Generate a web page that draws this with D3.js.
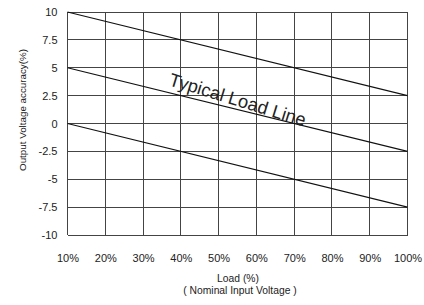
<!DOCTYPE html>
<html><head><meta charset="utf-8">
<script src="https://cdn.jsdelivr.net/npm/d3@7"></script>
<style>body{margin:0;background:#fff}svg{display:block}text{font-family:"Liberation Sans",Arial,sans-serif;fill:#222}</style>
</head><body>
<script>
const xTicks = [10,20,30,40,50,60,70,80,90,100];
const yTicks = [-10,-7.5,-5,-2.5,0,2.5,5,7.5,10];
const loadPct = [10, 100];
const upperLine = [10, 2.5];
const typicalLine = [5, -2.5];
const lowerLine = [0, -7.5];
const annotation = "Typical Load Line";
const annotationAt = 36.6;

const W=424,H=305;
const svg=d3.select("body").append("svg").attr("width",W).attr("height",H);
const x=d3.scaleLinear().domain([10,100]).range([67.5,407.5]);
const y=d3.scaleLinear().domain([-10,10]).range([235,12]);

const g=svg.append("g");
g.selectAll(".vg").data(xTicks).join("line")
 .attr("x1",d=>x(d)).attr("x2",d=>x(d)).attr("y1",y(-10)).attr("y2",y(10))
 .attr("stroke","#444").attr("stroke-width",1).attr("shape-rendering","crispEdges");
g.selectAll(".hg").data(yTicks).join("line")
 .attr("x1",x(10)).attr("x2",x(100)).attr("y1",d=>y(d)).attr("y2",d=>y(d))
 .attr("stroke","#444").attr("stroke-width",1).attr("shape-rendering","crispEdges");

const xa=svg.append("g").attr("transform",`translate(0,${y(-10)})`)
 .call(d3.axisBottom(x).tickValues(xTicks).tickFormat(d=>d+"%").tickSize(0).tickPadding(19));
xa.select(".domain").remove();
xa.selectAll("text").style("font-size","11px").style("font-family","'Liberation Sans',Arial,sans-serif").attr("fill","#222");
const ya=svg.append("g").attr("transform",`translate(${x(10)},0)`)
 .call(d3.axisLeft(y).tickValues(yTicks).tickFormat(d=>String(d)).tickSize(0).tickPadding(10));
ya.select(".domain").remove();
ya.selectAll("text").style("font-size","11px").style("font-family","'Liberation Sans',Arial,sans-serif").attr("fill","#222");

const line=d3.line().x(d=>x(d[0])).y(d=>y(d[1]));
[upperLine,typicalLine,lowerLine].forEach(s=>{
  g.append("path").datum(loadPct.map((l,i)=>[l,s[i]])).attr("d",line)
   .attr("fill","none").attr("stroke","#111").attr("stroke-width",1.1);
});

const slope=(typicalLine[1]-typicalLine[0])/(loadPct[1]-loadPct[0]);
const ang=Math.atan2(y(typicalLine[0]+slope*(loadPct[1]-loadPct[0]))-y(typicalLine[0]),x(loadPct[1])-x(loadPct[0]))*180/Math.PI;
const ax=x(annotationAt), ay=y(typicalLine[0]+slope*(annotationAt-loadPct[0]));
const ann=svg.append("text").attr("transform",`translate(${ax},${ay-7.5}) rotate(${ang+3.2})`)
 .style("font-size","18px").text(annotation);
const len=ann.node().getComputedTextLength();
if(len>0) ann.style("font-size",(18*142/len).toFixed(2)+"px");

svg.append("text").attr("transform",`translate(26,110) rotate(-90)`).attr("text-anchor","middle")
 .style("font-size","9.8px").text("Output Voltage accuracy(%)");
svg.append("text").attr("x",238).attr("y",282).attr("text-anchor","middle").style("font-size","10.3px").text("Load (%)");
svg.append("text").attr("x",240).attr("y",294).attr("text-anchor","middle").style("font-size","10.3px").text("( Nominal Input Voltage )");
</script>
</body></html>
